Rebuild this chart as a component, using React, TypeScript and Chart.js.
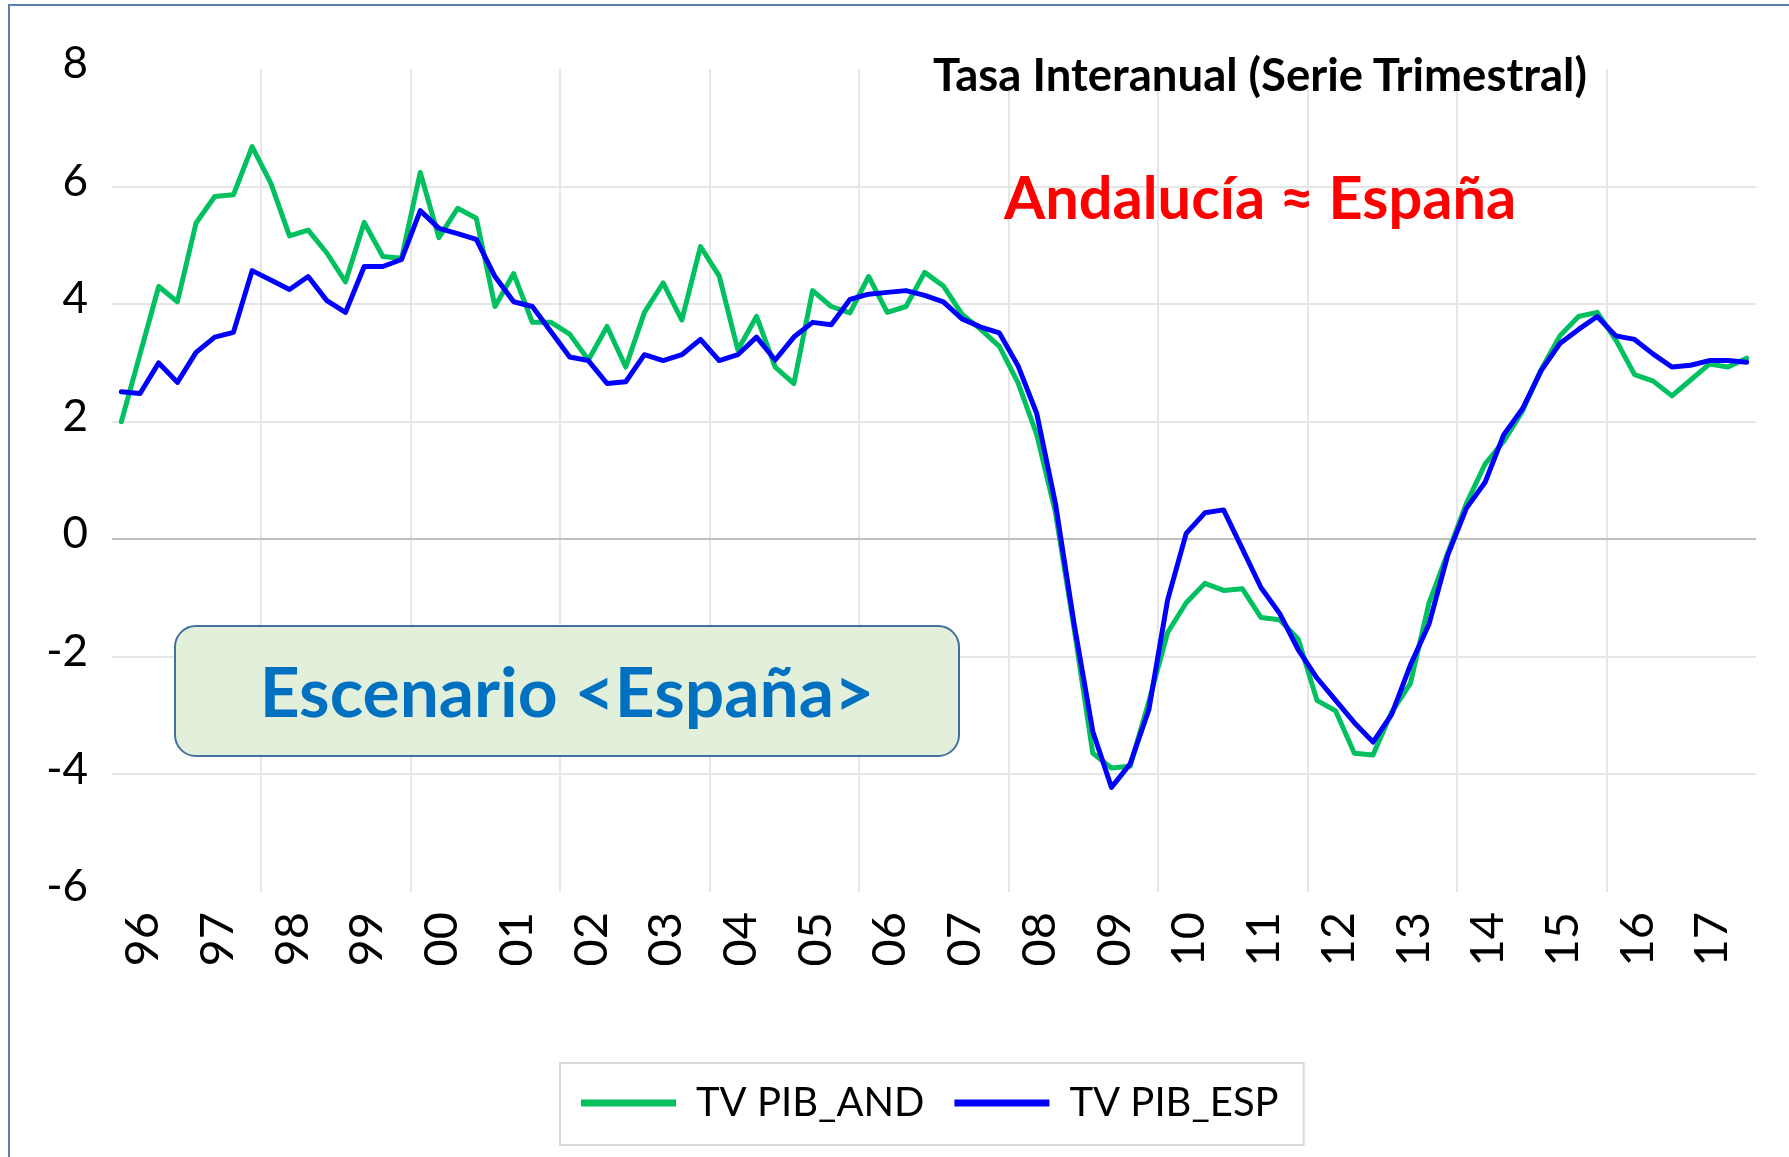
import React, { useEffect, useRef } from 'react';
import { Chart, registerables } from 'chart.js';

Chart.register(...registerables);

// ---- Data ----
const YEARS = ['96', '97', '98', '99', '00', '01', '02', '03', '04', '05', '06', '07', '08', '09', '10', '11', '12', '13', '14', '15', '16', '17'];
const QUARTERS = ['T1', 'T2', 'T3', 'T4'];
const QUARTER_LABELS = YEARS.flatMap((y) => QUARTERS.map((q) => `${y} ${q}`));

const SERIES_NAMES = ['TV PIB_AND', 'TV PIB_ESP'];

const TV_PIB_AND = [
  2.0, 3.15, 4.3, 4.04, 5.38, 5.83, 5.86, 6.68,
  6.06, 5.16, 5.26, 4.87, 4.38, 5.39, 4.81, 4.78,
  6.24, 5.13, 5.63, 5.46, 3.96, 4.52, 3.69, 3.69,
  3.49, 3.05, 3.62, 2.93, 3.86, 4.36, 3.73, 4.98,
  4.48, 3.22, 3.79, 2.93, 2.65, 4.23, 3.96, 3.85,
  4.47, 3.86, 3.96, 4.54, 4.31, 3.83, 3.57, 3.28,
  2.66, 1.78, 0.46, -1.52, -3.64, -3.89, -3.86, -2.76,
  -1.59, -1.08, -0.75, -0.87, -0.84, -1.33, -1.37, -1.7,
  -2.74, -2.92, -3.64, -3.67, -2.94, -2.45, -1.08, -0.23,
  0.61, 1.28, 1.67, 2.18, 2.89, 3.46, 3.79, 3.86,
  3.39, 2.8, 2.69, 2.44, 2.71, 2.98, 2.93, 3.08,
];

const TV_PIB_ESP = [
  2.51, 2.48, 3.0, 2.67, 3.18, 3.44, 3.52, 4.57,
  4.41, 4.25, 4.47, 4.06, 3.86, 4.64, 4.64, 4.76,
  5.59, 5.29, 5.2, 5.1, 4.47, 4.04, 3.96, 3.53,
  3.1, 3.04, 2.65, 2.68, 3.14, 3.04, 3.14, 3.4,
  3.04, 3.14, 3.44, 3.05, 3.44, 3.69, 3.65, 4.08,
  4.17, 4.2, 4.23, 4.15, 4.04, 3.75, 3.61, 3.51,
  2.95, 2.14, 0.61, -1.44, -3.27, -4.22, -3.82, -2.9,
  -1.04, 0.1, 0.45, 0.5, -0.16, -0.82, -1.26, -1.88,
  -2.36, -2.74, -3.12, -3.45, -2.98, -2.14, -1.44, -0.27,
  0.53, 0.97, 1.78, 2.22, 2.87, 3.33, 3.57, 3.79,
  3.46, 3.4, 3.15, 2.93, 2.96, 3.04, 3.04, 3.01,
];

const Y_MIN = -6;
const Y_MAX = 8;
const Y_STEP = 2;

const TITLE = 'Tasa Interanual (Serie Trimestral)';
const NOTE = 'Andalucía ≈ España';
const SCENARIO = 'Escenario <España>';

// ---- Style ----
const FONT = 'Lato, "Open Sans", "DejaVu Sans", sans-serif';
const GREEN = '#00c060';
const BLUE = '#0000ff';
const W = 1789;
const H = 1157;

const LEGEND_FONT = 40;
const LEGEND_PAD = 30;
const LEGEND_X = 581;
const LEGEND_CY = 1103;

const legendPlugin = {
  id: 'legendPlace',
  afterLayout(chart: any) {
    const lg = chart.legend;
    if (!lg) return;
    const dx = LEGEND_X - (lg.left + LEGEND_PAD);
    const dy = LEGEND_CY - (lg.top + LEGEND_PAD + LEGEND_FONT / 2);
    lg.left += dx;
    lg.right += dx;
    lg.top += dy;
    lg.bottom += dy;
  },
  afterDraw(chart: any) {
    const lg = chart.legend;
    if (!lg || !lg.legendHitBoxes || !lg.legendHitBoxes.length) return;
    const hb = lg.legendHitBoxes;
    const first = hb[0];
    const last = hb[hb.length - 1];
    const cy = first.top + first.height / 2;
    const x0 = first.left - 21;
    const x1 = last.left + last.width + 25;
    const ctx = chart.ctx;
    ctx.save();
    ctx.strokeStyle = '#d9d9d9';
    ctx.lineWidth = 2;
    ctx.strokeRect(x0, cy - 40, x1 - x0, 82);
    ctx.restore();
  },
};

export default function App() {
  const canvasRef = useRef<HTMLCanvasElement | null>(null);

  useEffect(() => {
    if (!canvasRef.current) return;
    const chart = new Chart(canvasRef.current, {
      type: 'line',
      data: {
        labels: QUARTER_LABELS,
        datasets: [
          {
            label: SERIES_NAMES[0],
            data: TV_PIB_AND,
            borderColor: GREEN,
            backgroundColor: GREEN,
            borderWidth: 5,
            pointRadius: 0,
            tension: 0,
            borderJoinStyle: 'round',
            borderCapStyle: 'round',
            order: 1,
          },
          {
            label: SERIES_NAMES[1],
            data: TV_PIB_ESP,
            borderColor: BLUE,
            backgroundColor: BLUE,
            borderWidth: 5,
            pointRadius: 0,
            tension: 0,
            borderJoinStyle: 'round',
            borderCapStyle: 'round',
            order: 0,
          },
        ],
      },
      options: {
        animation: false,
        responsive: true,
        maintainAspectRatio: false,
        layout: { padding: { left: 12, right: 33, top: 69, bottom: 0 } },
        plugins: {
          tooltip: { enabled: false },
          title: { display: false },
          legend: {
            display: true,
            position: 'bottom',
            align: 'start',
            labels: {
              boxWidth: 95,
              boxHeight: 7,
              padding: LEGEND_PAD,
              color: '#000',
              font: { family: FONT, size: LEGEND_FONT },
              sort: (a: any, b: any) => a.datasetIndex - b.datasetIndex,
              generateLabels: (c: any) =>
                (Chart as any).defaults.plugins.legend.labels
                  .generateLabels(c)
                  .map((l: any) => ({ ...l, lineWidth: 0 })),
            },
          },
        },
        scales: {
          x: {
            type: 'category',
            offset: true,
            border: { display: false },
            grid: {
              offset: true,
              drawTicks: false,
              lineWidth: 2,
              color: (ctx: any) =>
                typeof ctx.index === 'number' && ctx.index > 0 && ctx.index % 8 === 0
                  ? '#e6e6e6'
                  : 'rgba(0,0,0,0)',
            },
            ticks: {
              autoSkip: false,
              minRotation: 90,
              maxRotation: 90,
              padding: 20,
              labelOffset: 3,
              color: '#000',
              font: { family: FONT, size: 47 },
              callback: (_v: any, index: number) =>
                index % 4 === 1 ? YEARS[Math.floor(index / 4)] : '',
            },
            afterFit: (scale: any) => {
              scale.height = 185;
              scale.paddingLeft = 0;
              scale.paddingRight = 0;
            },
          },
          y: {
            min: Y_MIN,
            max: Y_MAX,
            border: { display: false },
            grid: {
              drawTicks: false,
              lineWidth: 2,
              color: (ctx: any) => {
                const v = ctx.tick ? ctx.tick.value : null;
                if (v === Y_MAX || v === Y_MIN) return 'rgba(0,0,0,0)';
                if (v === 0) return '#c0c0c0';
                return '#e6e6e6';
              },
            },
            ticks: {
              stepSize: Y_STEP,
              padding: 24,
              labelOffset: -5,
              color: '#000',
              font: { family: FONT, size: 44 },
            },
            afterFit: (scale: any) => {
              scale.width = 100;
            },
          },
        },
      },
      plugins: [legendPlugin],
    } as any);
    return () => chart.destroy();
  }, []);

  return (
    <div
      style={{
        position: 'absolute',
        left: 0,
        top: 0,
        width: W,
        height: H,
        overflow: 'hidden',
        background: '#ffffff',
      }}
    >
      <div
        style={{
          position: 'absolute',
          left: 8,
          top: 4,
          width: 3000,
          height: 3000,
          borderLeft: '2px solid #5a7fae',
          borderTop: '2px solid #5a7fae',
        }}
      />
      <div style={{ position: 'absolute', left: 0, top: 0, width: W, height: H }}>
        <canvas ref={canvasRef} />
      </div>
      <div
        style={{
          position: 'absolute',
          left: 933,
          top: 51,
          fontFamily: FONT,
          fontWeight: 700,
          fontSize: 45.5,
          lineHeight: 1,
          whiteSpace: 'nowrap',
          color: '#000',
        }}
      >
        {TITLE}
      </div>
      <div
        style={{
          position: 'absolute',
          left: 1004,
          top: 167,
          fontFamily: FONT,
          fontWeight: 700,
          fontSize: 59.5,
          lineHeight: 1,
          whiteSpace: 'nowrap',
          color: '#ff0000',
        }}
      >
        {NOTE}
      </div>
      <div
        style={{
          position: 'absolute',
          left: 174,
          top: 625,
          width: 786,
          height: 132,
          boxSizing: 'border-box',
          border: '2px solid #41719c',
          borderRadius: 22,
          background: '#e2efda',
          display: 'flex',
          alignItems: 'center',
          justifyContent: 'center',
        }}
      >
        <span
          style={{
            fontFamily: FONT,
            fontWeight: 700,
            fontSize: 69.5,
            lineHeight: 1,
            whiteSpace: 'nowrap',
            color: '#0070c0',
          }}
        >
          {SCENARIO}
        </span>
      </div>
    </div>
  );
}
